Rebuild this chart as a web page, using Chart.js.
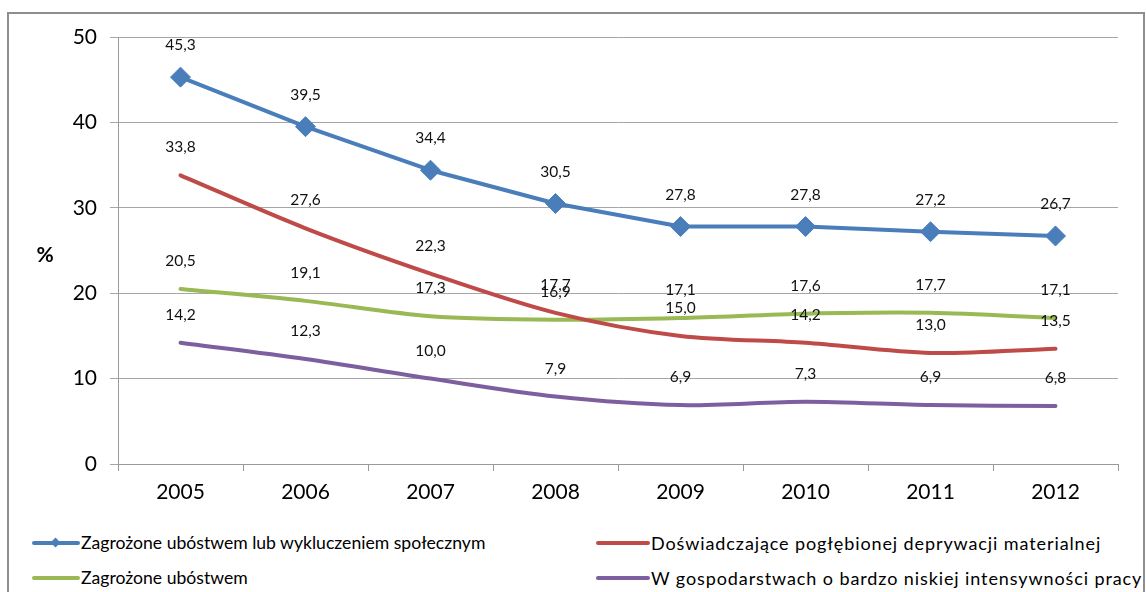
<!DOCTYPE html>
<html>
<head>
<meta charset="utf-8">
<script src="https://cdn.jsdelivr.net/npm/chart.js@4"></script>
<style>
  body { margin: 0; background: #fff; width: 1146px; height: 592px; overflow: hidden; position: relative; font-family: Lato, "Open Sans", sans-serif; }
  #frame { position: absolute; left: 7px; top: 12px; width: 1134px; height: 600px; border: 2px solid #8e8e8e; }
  #wrap { position: absolute; left: 0; top: 0; width: 1146px; height: 520px; }
  #legend { position: absolute; left: 0; top: 526px; width: 1146px; height: 66px; }
  .item { position: absolute; height: 24px; line-height: 24px; font-size: 17.6px; color: #000; white-space: nowrap; }
  .item.col2 { font-size: 18px; letter-spacing: 0.9px; }
  .swatch { display: inline-block; position: relative; width: 48px; height: 24px; vertical-align: top; margin-right: 1px; }
  .col2 .swatch { width: 54px; }
  .swatch .ln { position: absolute; left: 0; right: 0; top: 10px; height: 4px; border-radius: 2px; }
  .swatch .mk { position: absolute; left: 20px; top: 8px; width: 7px; height: 7px; transform: rotate(45deg); }
</style>
</head>
<body>
<div id="frame"></div>
<div id="wrap"><canvas id="chart" width="1146" height="520"></canvas></div>
<div id="legend"></div>
<script>
// lata i serie (w %)
const years = ["2005", "2006", "2007", "2008", "2009", "2010", "2011", "2012"];
const yTicks = [0, 10, 20, 30, 40, 50];

const seriesNames = [
  "Zagrożone ubóstwem lub wykluczeniem społecznym",
  "Doświadczające pogłębionej deprywacji materialnej",
  "Zagrożone ubóstwem",
  "W gospodarstwach o bardzo niskiej intensywności pracy"
];
const atRisk      = [45.3, 39.5, 34.4, 30.5, 27.8, 27.8, 27.2, 26.7];
const deprivation = [33.8, 27.6, 22.3, 17.7, 15.0, 14.2, 13.0, 13.5];
const poverty     = [20.5, 19.1, 17.3, 16.9, 17.1, 17.6, 17.7, 17.1];
const lowWork     = [14.2, 12.3, 10.0, 7.9, 6.9, 7.3, 6.9, 6.8];

const colors = ["#4a7ebb", "#be4b48", "#98b954", "#7d5fa0"];
const FONT = "Lato, 'Open Sans', sans-serif";

// etykiety wartości nad punktami
const valueLabels = {
  id: "valueLabels",
  afterDatasetsDraw(chart) {
    const ctx = chart.ctx;
    ctx.save();
    ctx.font = "15.5px " + FONT;
    ctx.fillStyle = "#111";
    ctx.textAlign = "center";
    ctx.textBaseline = "middle";
    chart.data.datasets.forEach((ds, i) => {
      const meta = chart.getDatasetMeta(i);
      meta.data.forEach((pt, j) => {
        const txt = ds.data[j].toFixed(1).replace(".", ",");
        ctx.fillText(txt, pt.x, pt.y - ds.labelOffset);
      });
    });
    // "%" obok osi Y
    ctx.font = "bold 21px " + FONT;
    ctx.fillStyle = "#000";
    ctx.fillText("%", 45, 255);
    ctx.restore();
  }
};

const makeSet = (label, data, color, extra) => Object.assign({
  label, data,
  borderColor: color,
  backgroundColor: color,
  borderWidth: 4,
  pointRadius: 0,
  pointHoverRadius: 0,
  tension: 0.3,
  labelOffset: 28,
  borderCapStyle: "round",
  borderJoinStyle: "round"
}, extra || {});

const datasets = [
  makeSet(seriesNames[0], atRisk, colors[0], {
    tension: 0, pointStyle: "rectRot", pointRadius: 10, pointBorderWidth: 1, labelOffset: 32
  }),
  makeSet(seriesNames[1], deprivation, colors[1]),
  makeSet(seriesNames[2], poverty, colors[2]),
  makeSet(seriesNames[3], lowWork, colors[3])
];

new Chart(document.getElementById("chart"), {
  type: "line",
  data: { labels: years, datasets },
  options: {
    responsive: false,
    animation: false,
    layout: { padding: { left: 0, right: 28, top: 37, bottom: 0 } },
    plugins: { legend: { display: false }, tooltip: { enabled: false } },
    scales: {
      x: {
        offset: true,
        grid: { offset: true, drawOnChartArea: false, color: "#9a9a9a", tickLength: 7 },
        border: { color: "#9a9a9a" },
        ticks: { color: "#000", font: { family: FONT, size: 21 }, padding: 9 },
        afterFit: s => { s.height = 56; }
      },
      y: {
        min: 0, max: 50,
        afterBuildTicks: s => { s.ticks = yTicks.map(v => ({ value: v })); },
        grid: { color: "#a6a6a6", tickLength: 8 },
        border: { color: "#9a9a9a" },
        ticks: { color: "#000", font: { family: FONT, size: 21 }, padding: 13 },
        afterFit: s => { s.width = 118; }
      }
    }
  },
  plugins: [valueLabels]
});

// legenda w dwóch kolumnach
const legendPos = [[32, 5], [596, 5], [32, 40], [596, 40]];
const legend = document.getElementById("legend");
seriesNames.forEach((name, i) => {
  const el = document.createElement("div");
  el.className = "item" + (i % 2 ? " col2" : "");
  el.style.left = legendPos[i][0] + "px";
  el.style.top = legendPos[i][1] + "px";
  const sw = document.createElement("span");
  sw.className = "swatch";
  sw.innerHTML = '<span class="ln" style="background:' + colors[i] + '"></span>' +
    (i === 0 ? '<span class="mk" style="background:' + colors[i] + '"></span>' : "");
  el.appendChild(sw);
  el.appendChild(document.createTextNode(name));
  legend.appendChild(el);
});
</script>
</body>
</html>
